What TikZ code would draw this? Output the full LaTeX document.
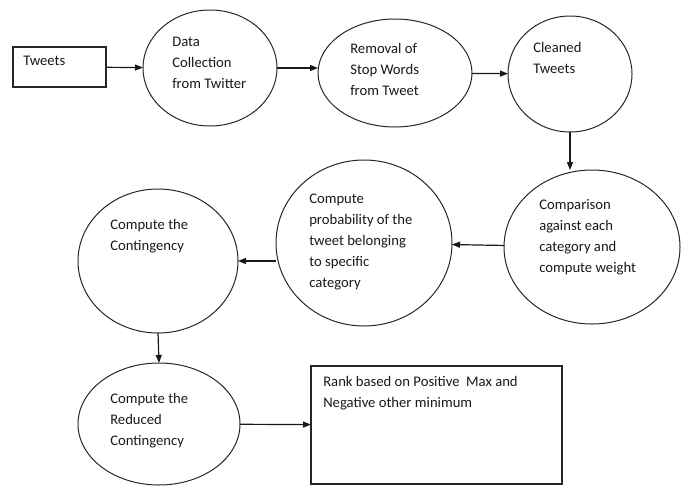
\documentclass[tikz,border=0pt]{standalone}
\usepackage{fontspec}
\setmainfont{Carlito}
\usetikzlibrary{arrows.meta,shapes.geometric}

\tikzset{
  stage/.style={ellipse, draw=black!85, line width=0.75pt, inner sep=0pt, outer sep=0pt},
  stagebox/.style={rectangle, draw=black!85, line width=0.9pt, inner sep=0pt, outer sep=0pt},
  stagetext/.style={anchor=north west, inner sep=0pt, align=left, text=black!90,
    font=\fontsize{11}{15.75}\selectfont},
  flow/.style={draw=black!90, line width=0.9pt, -{Triangle[length=6pt,width=4.5pt]}}
}

\begin{document}
\begin{tikzpicture}[x=0.75pt, y=-0.75pt]
            \useasboundingbox (0,0) rectangle (684,486);

            % First row
            \node[stagebox, minimum width=69.75pt, minimum height=30pt] (tweets) at (59.5,67) {};
            \node[stagetext] (tweets-txt) at (23,50.3) {\strut Tweets};

            \node[stage, minimum width=100.5pt, minimum height=87pt] (collect) at (210,68) {};
            \node[stagetext] (collect-txt) at (172,31.3) {\strut Data\\Collection\\from Twitter};
            \draw[flow] (tweets) -- (collect);

            \node[stage, minimum width=115.5pt, minimum height=81pt] (stopwords) at (395,73) {};
            \node[stagetext] (stopwords-txt) at (350,38.3) {\strut Removal of\\Stop Words\\from Tweet};
            \draw[flow] (collect.east) -- (collect.east -| stopwords.west);

            \node[stage, minimum width=93pt, minimum height=87pt] (cleaned) at (570,74) {};
            \node[stagetext] (cleaned-txt) at (533,37.3) {\strut Cleaned\\Tweets};
            \draw[flow] (stopwords) -- (cleaned);

            % Second row
            \node[stage, minimum width=132pt, minimum height=115.5pt] (compare) at (592,247) {};
            \node[stagetext] (compare-txt) at (539,194.3) {\strut Comparison\\against each\\category and\\compute weight};
            \draw[flow] (cleaned.south) -- (cleaned.south |- compare.north);

            \node[stage, minimum width=132pt, minimum height=124.5pt] (prob) at (364,243) {};
            \node[stagetext] (prob-txt) at (309,188.3) {\strut Compute\\probability of the\\tweet belonging\\to specific\\category};
            \draw[flow] (compare) -- (prob);

            \node[stage, minimum width=120pt, minimum height=108pt] (contingency) at (158,261) {};
            \node[stagetext] (contingency-txt) at (110,214.3) {\strut Compute the\\Contingency};
            \draw[flow] (contingency.east -| prob.west) -- (contingency.east);

            % Third row
            \node[stage, minimum width=121.5pt, minimum height=91.5pt] (reduced) at (159,424) {};
            \node[stagetext] (reduced-txt) at (110,388.3) {\strut Compute the\\Reduced\\Contingency};
            \draw[flow] (contingency.south) -- (reduced.north);

            \node[stagebox, minimum width=188.25pt, minimum height=88.5pt] (rank) at (436.5,425) {};
            \node[stagetext] (rank-txt) at (323,371.3) {\strut Rank based on Positive\ \ Max and\\Negative other minimum};
            \draw[flow] (reduced) -- (rank);
        \end{tikzpicture}
\end{document}
